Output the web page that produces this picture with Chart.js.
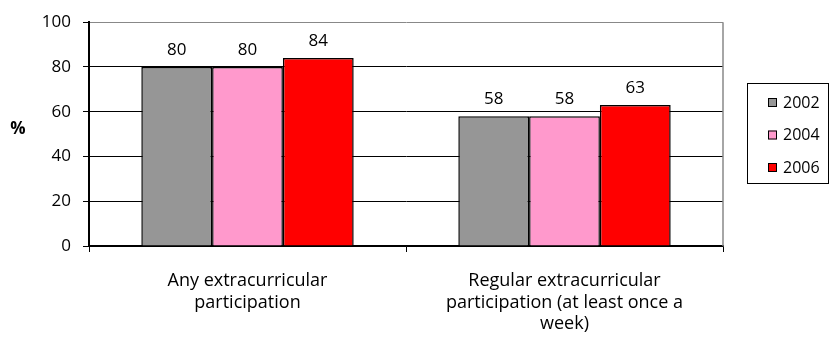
<!DOCTYPE html>
<html>
<head>
<meta charset="utf-8">
<script src="https://cdn.jsdelivr.net/npm/chart.js@4/dist/chart.umd.min.js"></script>
<style>
  html, body { margin: 0; padding: 0; background: #fff; }
  #wrap { width: 830px; height: 337px; }
</style>
</head>
<body>
<div id="wrap"><canvas id="c" width="830" height="337"></canvas></div>
<script>
// Participation in extracurricular activities, by survey year (%)
const categories = [
  ["Any extracurricular", "participation"],
  ["Regular extracurricular", "participation (at least once a", "week)"]
];
const years = ["2002", "2004", "2006"];
const values2002 = [80, 58];
const values2004 = [80, 58];
const values2006 = [84, 63];
const yTicks = [0, 20, 40, 60, 80, 100];

const colors = ["#969696", "#ff99cc", "#ff0000"];
const FONT = "'Open Sans', sans-serif";

// Value labels above each bar
const valueLabels = {
  id: "valueLabels",
  afterDatasetsDraw(chart) {
    const ctx = chart.ctx;
    ctx.save();
    ctx.font = "17px " + FONT;
    ctx.fillStyle = "#000";
    ctx.textAlign = "center";
    ctx.textBaseline = "alphabetic";
    chart.data.datasets.forEach((ds, i) => {
      chart.getDatasetMeta(i).data.forEach((bar, j) => {
        ctx.fillText(String(ds.data[j]), bar.x, bar.y - 12);
      });
    });
    ctx.restore();
  }
};

// Frame, axis title and boxed legend
const decorations = {
  id: "decorations",
  afterDraw(chart) {
    const ctx = chart.ctx;
    const a = chart.chartArea;
    ctx.save();
    // right border of the plot area
    ctx.strokeStyle = "#888";
    ctx.lineWidth = 1.5;
    ctx.beginPath();
    ctx.moveTo(a.right, a.top);
    ctx.lineTo(a.right, a.bottom);
    ctx.stroke();

    // y axis title
    ctx.fillStyle = "#000";
    ctx.font = "bold 17px " + FONT;
    ctx.textAlign = "center";
    ctx.textBaseline = "middle";
    ctx.fillText("%", 18, 129);

    // legend
    const lx = 747.5, ly = 83.5, lw = 81, lh = 100;
    ctx.strokeStyle = "#000";
    ctx.lineWidth = 1;
    ctx.strokeRect(lx, ly, lw, lh);
    ctx.font = "16px " + FONT;
    ctx.textAlign = "left";
    chart.data.datasets.forEach((ds, i) => {
      const cy = 102 + i * 32.5;
      ctx.fillStyle = ds.backgroundColor;
      ctx.fillRect(768, cy - 4, 9, 9);
      ctx.strokeStyle = "#000";
      ctx.lineWidth = 1;
      ctx.strokeRect(768.5, cy - 3.5, 8, 8);
      ctx.fillStyle = "#000";
      ctx.fillText(ds.label, 783, cy + 1);
    });
    ctx.restore();
  }
};

new Chart(document.getElementById("c"), {
  type: "bar",
  data: {
    labels: categories,
    datasets: [
      { label: years[0], data: values2002, backgroundColor: colors[0] },
      { label: years[1], data: values2004, backgroundColor: colors[1] },
      { label: years[2], data: values2006, backgroundColor: colors[2] }
    ].map(d => Object.assign(d, {
      borderColor: "#000",
      borderWidth: 1.5,
      categoryPercentage: 0.67,
      barPercentage: 1.0
    }))
  },
  options: {
    responsive: false,
    animation: false,
    devicePixelRatio: 1,
    layout: { padding: { left: 0, top: 18, right: 107, bottom: 0 } },
    plugins: {
      legend: { display: false },
      tooltip: { enabled: false }
    },
    scales: {
      y: {
        min: 0,
        max: 100,
        afterFit(scale) { scale.width = 89; },
        afterBuildTicks(scale) { scale.ticks = yTicks.map(v => ({ value: v })); },
        ticks: {
          color: "#000",
          font: { size: 17, family: FONT },
          padding: 12
        },
        grid: {
          color: ctx => (ctx.tick && ctx.tick.value === 100 ? "#888" : "#000"),
          lineWidth: 1,
          tickLength: 6,
          tickColor: "#000"
        },
        border: { color: "#000", width: 2 }
      },
      x: {
        afterFit(scale) { scale.height = 91; },
        ticks: {
          color: "#000",
          font: { size: 18, family: FONT, lineHeight: 1.2 },
          padding: 18,
          maxRotation: 0,
          autoSkip: false
        },
        grid: {
          offset: true,
          drawOnChartArea: false,
          tickLength: 6,
          color: "#000"
        },
        border: { color: "#000", width: 1.5 }
      }
    }
  },
  plugins: [valueLabels, decorations]
});
</script>
</body>
</html>
